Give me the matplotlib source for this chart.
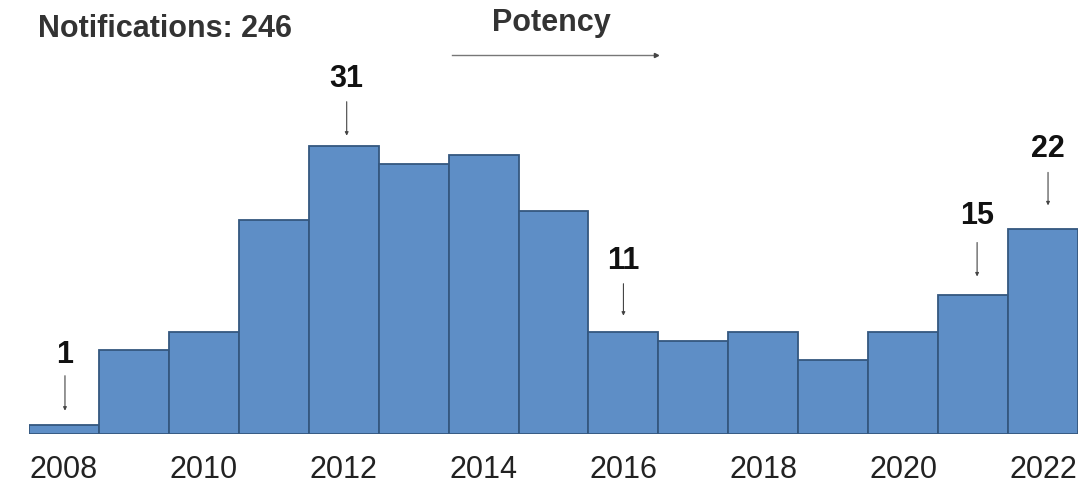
import matplotlib.pyplot as plt
import numpy as np

plt.rcParams['font.family'] = ['Liberation Sans', 'DejaVu Sans']

years = np.arange(2008, 2023)
counts = [1, 9, 11, 23, 31, 29, 30, 24, 11, 10, 11, 8, 11, 15, 22]
labelled_years = [2008, 2012, 2016, 2021, 2022]
tick_years = [2008, 2010, 2012, 2014, 2016, 2018, 2020, 2022]

# pixel placement of the callouts: (x shift, text above bar, arrow tip gap, arrow start)
callout_px = {2008: (1, 70, 14, 49), 2012: (3, 67, 10, 44), 2016: (0, 71, 16, 48),
              2021: (4, 78, 18, 52), 2022: (5, 80, 24, 57)}

px_per_unit = 9.3
px_per_year = 1049 / 15

fig = plt.figure(figsize=(10.88, 4.92), dpi=100)
ax = fig.add_axes([29 / 1088, 1 - 434 / 492, 1049 / 1088, 434 / 492])

ax.bar(years, counts, width=1.0, color='#5e8ec6', edgecolor='#34577f', linewidth=1.3)

ax.set_xlim(2007.5, 2022.5)
ax.set_ylim(0, 434 / px_per_unit)
for s in ax.spines.values():
    s.set_visible(False)
ax.set_yticks([])
ax.set_xticks(tick_years)
ax.set_xticklabels([str(y) for y in tick_years], fontsize=22, color='#222222')
ax.tick_params(axis='x', length=0, pad=15)

for yr in labelled_years:
    v = counts[list(years).index(yr)]
    dx, t, tip, start = callout_px[yr]
    x = yr + dx / px_per_year
    ax.annotate(str(v), xy=(x, v + t / px_per_unit), ha='center', va='center',
                fontsize=22, fontweight='bold', color='#111111', annotation_clip=False)
    ax.annotate('', xy=(x, v + tip / px_per_unit), xytext=(x, v + start / px_per_unit),
                arrowprops=dict(arrowstyle='-|>', color='#444444', lw=0.8, mutation_scale=5,
                                shrinkA=0, shrinkB=0),
                annotation_clip=False)

fig.text(38 / 1088, 1 - 29 / 492, 'Notifications: 246', fontsize=22, fontweight='bold',
         color='#333333', ha='left', va='center')
fig.text(551 / 1088, 1 - 23 / 492, 'Potency', fontsize=22, fontweight='bold',
         color='#333333', ha='center', va='center')
fig.add_artist(plt.Line2D([452 / 1088, 655 / 1088], [1 - 55 / 492, 1 - 55 / 492],
                          color='#777777', lw=1.0))
fig.add_artist(plt.Line2D([656 / 1088], [1 - 55 / 492], marker='>', markersize=3,
                          color='#444444', lw=0))

fig.savefig('out.png', dpi=100)
